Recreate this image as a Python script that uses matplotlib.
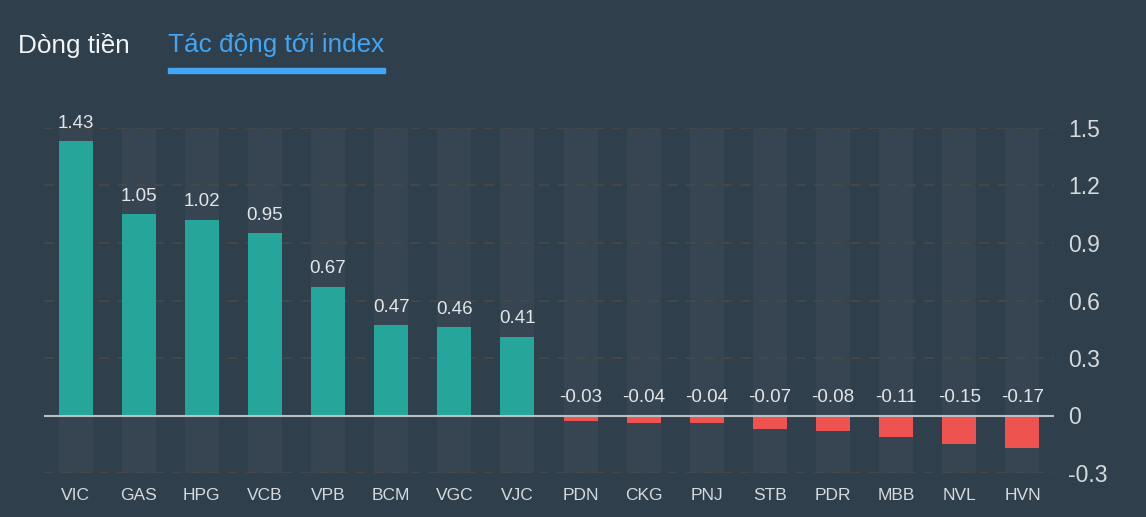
import matplotlib
matplotlib.use("Agg")
import matplotlib.pyplot as plt

plt.rcParams['font.family'] = ['Liberation Sans', 'DejaVu Sans']

codes = ['VIC', 'GAS', 'HPG', 'VCB', 'VPB', 'BCM', 'VGC', 'VJC',
         'PDN', 'CKG', 'PNJ', 'STB', 'PDR', 'MBB', 'NVL', 'HVN']
impact = [1.43, 1.05, 1.02, 0.95, 0.67, 0.47, 0.46, 0.41,
          -0.03, -0.04, -0.04, -0.07, -0.08, -0.11, -0.15, -0.17]
yticks = [-0.3, 0, 0.3, 0.6, 0.9, 1.2, 1.5]
ytick_labels = ['-0.3', '0', '0.3', '0.6', '0.9', '1.2', '1.5']

bg = '#303f4c'
col_bg = '#374553'
green = '#26a69a'
red = '#ef5350'

fig = plt.figure(figsize=(11.46, 5.17), dpi=100, facecolor=bg)
ax = fig.add_axes([44 / 1146, (517 - 473) / 517, (1054 - 44) / 1146, (473 - 128) / 517])
ax.set_facecolor(bg)

x = list(range(len(codes)))
w = 0.54
ymin, ymax = -0.3, 1.5

# shaded column behind each bar
ax.bar(x, [ymax - ymin] * len(x), bottom=ymin, width=w, color=col_bg, zorder=0)

# dashed grid
for t in yticks:
    if t != 0:
        ax.axhline(t, color='#4a4946', lw=1.2, ls=(0, (6, 5)), zorder=1)

colors = [green if v >= 0 else red for v in impact]
ax.bar(x, impact, width=w, color=colors, zorder=2)
ax.axhline(0, color='#b9c1c7', lw=1.5, zorder=3)

for i, v in enumerate(impact):
    ax.annotate(f'{v:.2f}', (i, max(v, 0)), xytext=(0, 7), textcoords='offset points',
                ha='center', va='bottom', fontsize=13.5, color='#e3e6e8')

ax.set_xlim(-0.5, len(codes) - 0.5)
ax.set_ylim(ymin, ymax)
ax.set_xticks(x)
ax.set_xticklabels(codes, fontsize=12.5, color='#d5dadd')
ax.yaxis.tick_right()
ax.set_yticks(yticks)
ax.set_yticklabels(ytick_labels, fontsize=16.5, color='#d5dadd')
ax.tick_params(axis='x', length=0, pad=11)
ax.tick_params(axis='y', length=0, pad=10)
for s in ax.spines.values():
    s.set_visible(False)

# tabs
fig.text(18 / 1146, 1 - 45 / 517, 'Dòng tiền', fontsize=18.8, color='#f2f4f5', va='center', ha='left')
fig.text(168 / 1146, 1 - 45 / 517, 'Tác động tới index', fontsize=18.8, color='#42a5f5', va='center', ha='left')
fig.add_artist(plt.Rectangle((168 / 1146, 1 - 73 / 517), (385 - 168) / 1146, 5 / 517,
                             transform=fig.transFigure, color='#42a5f5'))

fig.savefig('out.png', dpi=100, facecolor=bg)
